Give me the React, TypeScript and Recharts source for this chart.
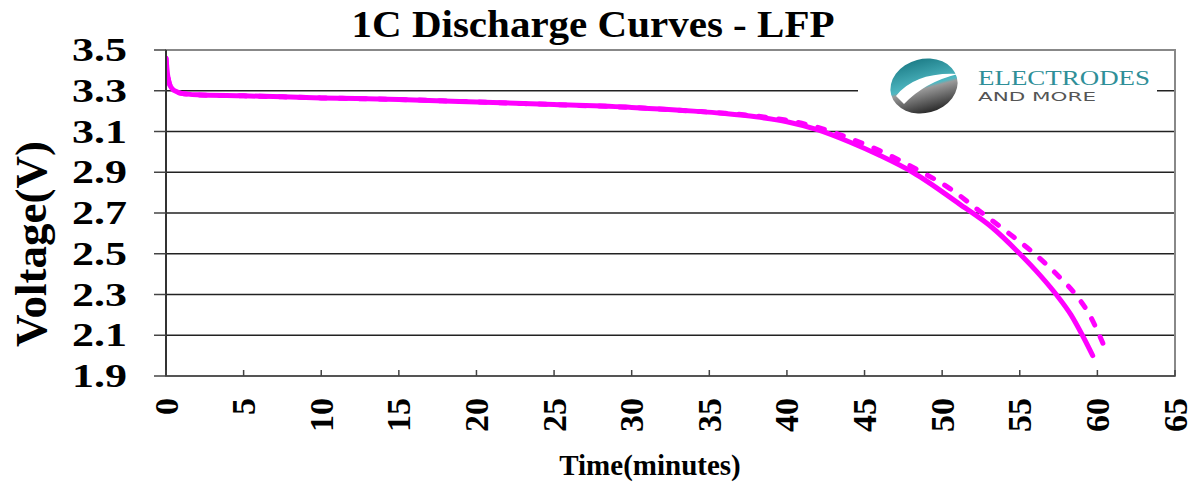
import React from 'react';
import { LineChart, Line, XAxis, YAxis, CartesianGrid, ReferenceArea } from 'recharts';

const SERIF = '"Liberation Serif", "Times New Roman", serif';

// solid curve (discharge 1)
const solidTime = [0, 0.1, 0.2, 0.4, 0.7, 1, 2, 5, 10, 15, 20, 25, 30, 34, 36, 38, 40, 42, 44, 46, 48.1, 51.1, 53.2, 55, 56.3, 57.4, 58.3, 59, 59.7];
const solidVolt = [3.46, 3.38, 3.34, 3.31, 3.295, 3.287, 3.28, 3.275, 3.265, 3.257, 3.245, 3.232, 3.218, 3.2, 3.188, 3.172, 3.148, 3.108, 3.05, 2.982, 2.9, 2.745, 2.63, 2.5, 2.395, 2.295, 2.2, 2.105, 2.0];

// dashed curve (discharge 2)
const dashTime = [0, 0.1, 0.2, 0.4, 0.7, 1, 2, 5, 10, 15, 20, 25, 30, 34, 36, 38, 40, 42, 44, 46, 48.7, 50.5, 52.4, 54.3, 56.1, 57.5, 58.7, 59.5, 60.1, 60.5];
const dashVolt = [3.46, 3.38, 3.34, 3.31, 3.295, 3.287, 3.28, 3.275, 3.265, 3.257, 3.245, 3.232, 3.218, 3.2, 3.19, 3.176, 3.155, 3.12, 3.068, 3.005, 2.9, 2.82, 2.71, 2.6, 2.49, 2.39, 2.29, 2.2, 2.105, 2.035];

const xTicks = [0, 5, 10, 15, 20, 25, 30, 35, 40, 45, 50, 55, 60, 65];
const yTicks = [1.9, 2.1, 2.3, 2.5, 2.7, 2.9, 3.1, 3.3, 3.5];

const solidData = solidTime.map((t, i) => ({ t, v: solidVolt[i] }));
const dashData = dashTime.map((t, i) => ({ t, v: dashVolt[i] }));

function YTick({ x, y, payload }: any) {
  return (
    <text x={x} y={y} dy="0.34em" textAnchor="end" fontFamily={SERIF} fontWeight="bold" fontSize={33}
      fill="#000" textLength={55} lengthAdjust="spacingAndGlyphs">
      {payload.value.toFixed(1)}
    </text>
  );
}

function XTick({ x, y, payload }: any) {
  const top = y + 22;
  return (
    <g>
      <line x1={x} y1={y} x2={x} y2={y - 6} stroke="#444" strokeWidth={1.5} />
      <text x={x} y={top} dy="0.34em" transform={`rotate(-90, ${x}, ${top})`} textAnchor="end"
        fontFamily={SERIF} fontWeight="bold" fontSize={34} fill="#000">
        {payload.value}
      </text>
    </g>
  );
}

function Logo() {
  return (
    <g>
      <rect x={858} y={54} width={299} height={70} fill="#fff" />
      <defs>
        <linearGradient id="swoosh" x1="0" y1="0" x2="0" y2="1">
          <stop offset="0" stopColor="#1f7f8a" />
          <stop offset="0.5" stopColor="#4fb8c2" />
          <stop offset="0.55" stopColor="#9a9a9a" />
          <stop offset="1" stopColor="#2a2a2a" />
        </linearGradient>
      </defs>
      <ellipse cx={924} cy={86} rx={34} ry={27} fill="url(#swoosh)" transform="rotate(-15, 924, 86)" />
      <path d="M 896 96 Q 915 72 958 74 Q 925 82 904 104 Z" fill="#fff" />
      <text x={978} y={85} fontFamily={SERIF} fontSize={20} fill="#2f8f98" textLength={172} lengthAdjust="spacingAndGlyphs">
        ELECTRODES
      </text>
      <text x={978} y={101} fontFamily='"DejaVu Sans", sans-serif' fontSize={12} fill="#555" textLength={118} lengthAdjust="spacingAndGlyphs">
        AND MORE
      </text>
    </g>
  );
}

export default function App() {
  return (
    <div style={{ position: 'relative', width: 1193, height: 482, background: '#fff' }}>
      <style>{'body{margin:0}'}</style>
      <LineChart width={1193} height={482} margin={{ top: 50, right: 18, bottom: 6, left: 0 }}>
        <CartesianGrid horizontal vertical={false} stroke="#222" strokeWidth={1.3} />
        <ReferenceArea x1={0} x2={65} y1={1.9} y2={3.5} fill="none" stroke="#888" strokeWidth={2} ifOverflow="visible" />
        <XAxis type="number" dataKey="t" domain={[0, 65]} ticks={xTicks} interval={0} height={100}
          tickSize={0} tickMargin={0} tick={<XTick />} axisLine={{ stroke: '#555', strokeWidth: 2 }} allowDataOverflow />
        <YAxis type="number" dataKey="v" domain={[1.9, 3.5]} ticks={yTicks} interval={0} width={166}
          tickSize={12} tickMargin={27} tick={<YTick />} tickLine={{ stroke: '#444', strokeWidth: 1.5 }}
          axisLine={{ stroke: '#333', strokeWidth: 2 }} allowDataOverflow />
        <Line data={dashData} dataKey="v" type="monotone" stroke="#ff00ff" strokeWidth={5}
          strokeDasharray="7 13" strokeLinecap="round" dot={false} isAnimationActive={false} />
        <Line data={solidData} dataKey="v" type="monotone" stroke="#ff00ff" strokeWidth={5}
          strokeLinecap="round" dot={false} isAnimationActive={false} />
      </LineChart>
      <svg width={1193} height={482} style={{ position: 'absolute', left: 0, top: 0, pointerEvents: 'none' }}>
        <text x={593} y={37} textAnchor="middle" fontFamily={SERIF} fontWeight="bold" fontSize={38}
          textLength={483} lengthAdjust="spacingAndGlyphs">
          1C Discharge Curves - LFP
        </text>
        <text x={46} y={244} textAnchor="middle" transform="rotate(-90, 46, 244)" fontFamily={SERIF}
          fontWeight="bold" fontSize={45}>
          Voltage(V)
        </text>
        <text x={650} y={475} textAnchor="middle" fontFamily={SERIF} fontWeight="bold" fontSize={29}>
          Time(minutes)
        </text>
        <Logo />
      </svg>
    </div>
  );
}
